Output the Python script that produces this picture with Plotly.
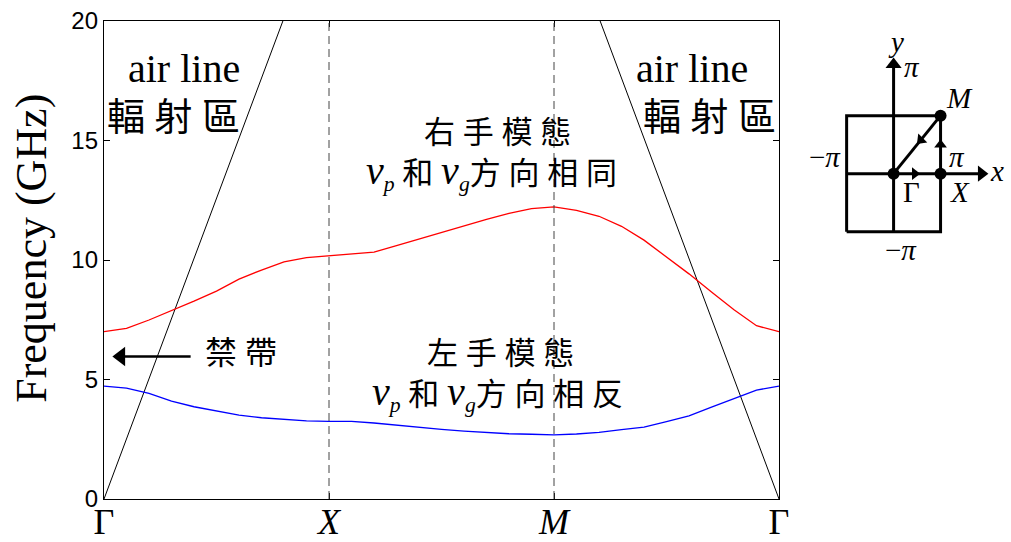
import plotly.graph_objects as go

# Band structure along Γ–X–M–Γ (path coordinate: 0=Γ, 1=X, 2=M, 3=Γ)
path_k = [0.0, 0.1, 0.2, 0.3, 0.4, 0.5, 0.6, 0.7, 0.8, 0.9, 1.0,
          1.1, 1.2, 1.3, 1.4, 1.5, 1.6, 1.7, 1.8, 1.9, 2.0,
          2.1, 2.2, 2.3, 2.4, 2.5, 2.6, 2.7, 2.8, 2.9, 3.0]

# right-handed (upper) band, GHz
upper_band = [7.00, 7.14, 7.49, 7.88, 8.28, 8.70, 9.20, 9.58, 9.92, 10.10, 10.17,
              10.24, 10.33, 10.60, 10.88, 11.15, 11.42, 11.70, 11.95, 12.15, 12.22,
              12.08, 11.83, 11.41, 10.83, 10.13, 9.42, 8.66, 7.92, 7.25, 7.00]

# left-handed (lower) band, GHz
lower_band = [4.72, 4.64, 4.42, 4.10, 3.86, 3.68, 3.51, 3.40, 3.33, 3.27, 3.25,
              3.25, 3.18, 3.08, 2.98, 2.91, 2.84, 2.78, 2.73, 2.71, 2.68,
              2.72, 2.79, 2.90, 3.01, 3.24, 3.48, 3.84, 4.20, 4.56, 4.72]

# light lines (air line) near Γ on both ends
air_left_k = [0.0, 0.795]
air_left_f = [0.0, 20.0]
air_right_k = [3.0, 2.205]
air_right_f = [0.0, 20.0]

sym_vals = [0, 1, 2, 3]
sym_text = ["Γ", "<i>X</i>", "<i>M</i>", "Γ"]
freq_ticks = [0, 5, 10, 15, 20]

# band-gap pointer (path coordinate, GHz)
gap_arrow_k = [0.385, 0.075]
gap_arrow_f = [5.96, 5.96]

# Brillouin zone inset (units of π/a)
bz_pts_x = [0, 1, 1]
bz_pts_y = [0, 0, 1]
bz_box_x = [-1, 1, 1, -1, -1]
bz_box_y = [-1, -1, 1, 1, -1]

SERIF = "Liberation Serif, Times New Roman, serif"
CJK = "Liberation Serif, Noto Sans CJK TC, serif"
SANS = "Liberation Sans, Arial, sans-serif"

fig = go.Figure()

fig.add_trace(go.Scatter(x=air_left_k, y=air_left_f, mode="lines",
                         line=dict(color="black", width=1), showlegend=False))
fig.add_trace(go.Scatter(x=air_right_k, y=air_right_f, mode="lines",
                         line=dict(color="black", width=1), showlegend=False))
fig.add_trace(go.Scatter(x=path_k, y=upper_band, mode="lines",
                         line=dict(color="#ff0000", width=1.3), showlegend=False))
fig.add_trace(go.Scatter(x=path_k, y=lower_band, mode="lines",
                         line=dict(color="#0000ff", width=1.3), showlegend=False))

# dashed markers at the X and M symmetry points
for k in sym_vals[1:3]:
    fig.add_shape(type="line", xref="x", yref="y", x0=k, x1=k, y0=0, y1=20,
                  line=dict(color="#444444", width=1, dash="8px,5px"))

# band-gap pointer: shaft plus a filled head
fig.add_trace(go.Scatter(x=gap_arrow_k, y=gap_arrow_f, mode="lines",
                         line=dict(color="black", width=2.6), showlegend=False,
                         hoverinfo="skip"))
fig.add_trace(go.Scatter(x=gap_arrow_k[-1:], y=gap_arrow_f[-1:], mode="markers",
                         marker=dict(symbol="triangle-left", size=17, color="black",
                                     line=dict(width=0)),
                         showlegend=False, hoverinfo="skip"))

# ---- Brillouin zone inset ----
def inset_line(xs, ys):
    fig.add_trace(go.Scatter(x=xs, y=ys, xaxis="x2", yaxis="y2", mode="lines",
                             line=dict(color="black", width=3), showlegend=False,
                             hoverinfo="skip"))

inset_line(bz_box_x, bz_box_y)
inset_line([-1, 1.85], [0, 0])        # kx axis
inset_line([0, 0], [-1, 1.85])        # ky axis
inset_line([bz_pts_x[2], bz_pts_x[0]], [bz_pts_y[2], bz_pts_y[0]])  # M → Γ

# arrowheads: axis tips and the Γ→X→M→Γ path direction
head_x = [1.87, 0.0, 0.45, 1.0, 0.58]
head_y = [0.0, 1.88, 0.0, 0.5, 0.58]
head_sym = ["triangle-right", "triangle-up", "triangle-right", "triangle-up", "triangle-up"]
head_ang = [0, 0, 0, 0, 225]
head_size = [14, 14, 11, 11, 11]
fig.add_trace(go.Scatter(x=head_x, y=head_y, xaxis="x2", yaxis="y2", mode="markers",
                         marker=dict(symbol=head_sym, angle=head_ang, size=head_size,
                                     color="black", opacity=1, line=dict(width=0)),
                         showlegend=False, hoverinfo="skip"))

fig.add_trace(go.Scatter(x=bz_pts_x, y=bz_pts_y, xaxis="x2", yaxis="y2",
                         mode="markers", marker=dict(color="black", size=12),
                         showlegend=False))

inset_labels = [
    (0.06, 2.27, "<i>y</i>"),
    (0.40, 1.84, "<i>π</i>"),
    (1.40, 1.30, "<i>M</i>"),
    (-1.47, 0.29, "−<i>π</i>"),
    (1.35, 0.29, "<i>π</i>"),
    (2.20, 0.04, "<i>x</i>"),
    (0.38, -0.32, "Γ"),
    (1.42, -0.32, "<i>X</i>"),
    (0.16, -1.32, "−<i>π</i>"),
]
for lx, ly, lt in inset_labels:
    fig.add_annotation(x=lx, y=ly, xref="x2", yref="y2", text=lt,
                       showarrow=False, font=dict(family=SERIF, size=29, color="black"))

# ---- main plot annotations ----
def note(x, y, text, size, family=CJK):
    fig.add_annotation(x=x, y=y, xref="x", yref="y", text=text, showarrow=False,
                       font=dict(family=family, size=size, color="black"))

note(0.355, 18.0, "air line", 40, SERIF)
note(0.31, 16.0, "輻 射 區", 38)
note(2.615, 18.0, "air line", 40, SERIF)
note(2.69, 16.0, "輻 射 區", 38)

vp = '<span style="font-size:40px"><i>v</i></span><sub><i>p</i></sub>'
vg = '<span style="font-size:40px"><i>v</i></span><sub><i>g</i></sub>'
note(1.75, 15.35, "右 手 模 態", 31)
note(1.72, 13.7, vp + " 和 " + vg + "方 向 相 同", 31)
note(1.76, 6.1, "左 手 模 態", 31)
note(1.75, 4.45, vp + " 和 " + vg + "方 向 相 反", 31)

note(0.61, 6.1, "禁 帶", 32)

# vertical axis title
fig.add_annotation(x=-0.0794, y=0.5255, xref="paper", yref="paper",
                   text="Frequency (GHz)", textangle=-90, showarrow=False,
                   xanchor="center", yanchor="middle",
                   font=dict(family=SERIF, size=44, color="black"))

axis_common = dict(showline=True, linecolor="black", linewidth=1.3,
                   mirror="ticks", ticks="inside", ticklen=6, tickwidth=1,
                   tickcolor="black", showgrid=False, zeroline=False,
                   automargin=False)

fig.update_layout(
    width=1011, height=542,
    margin=dict(l=104, r=0, t=21, b=43),
    paper_bgcolor="white", plot_bgcolor="white",
    xaxis=dict(domain=[0, 675 / 907], range=[0, 3], tickvals=sym_vals,
               ticktext=sym_text, ticklabelstandoff=-9,
               tickfont=dict(family=SERIF, size=36, color="black"),
               **axis_common),
    yaxis=dict(range=[0, 20], tickvals=freq_ticks,
               tickfont=dict(family=SANS, size=24, color="black"),
               **axis_common),
    xaxis2=dict(domain=[0.767, 1.0], range=[-2, 2.5], visible=False,
                anchor="y2", fixedrange=True),
    yaxis2=dict(domain=[0.438, 0.984], range=[-2, 2.5], visible=False,
                anchor="x2", fixedrange=True),
)

fig.write_html("out.html")
